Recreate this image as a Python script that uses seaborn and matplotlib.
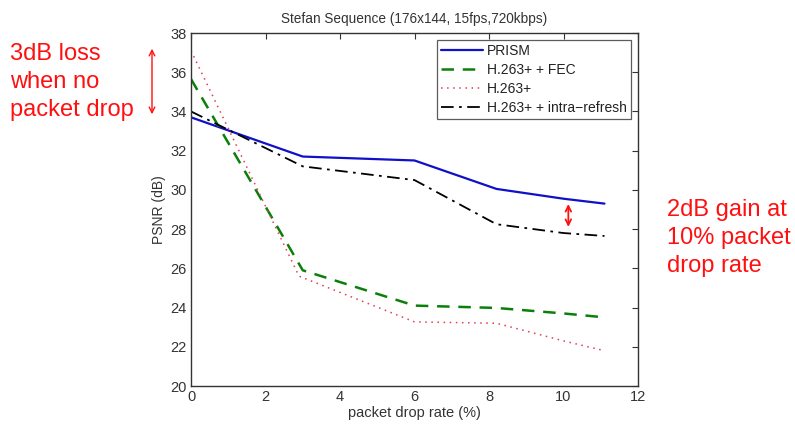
import matplotlib
matplotlib.use("Agg")
import matplotlib.pyplot as plt
import seaborn as sns
import numpy as np

# Data
drop_rate = [0, 3, 6, 8.2, 10, 11.1]
prism = [33.7, 31.7, 31.5, 30.05, 29.55, 29.3]
fec_x = [0, 3, 6, 8.2, 10, 11.1]
fec = [35.65, 25.9, 24.1, 23.98, 23.7, 23.5]
h263_x = [0, 2.9, 6, 8.2, 10, 11.1]
h263 = [37.1, 25.6, 23.27, 23.2, 22.3, 21.8]
intra = [34.0, 31.2, 30.5, 28.25, 27.8, 27.65]

series_names = ["PRISM", "H.263+ + FEC", "H.263+", "H.263+ + intra\u2212refresh"]
x_ticks = [0, 2, 4, 6, 8, 10, 12]
y_ticks = [20, 22, 24, 26, 28, 30, 32, 34, 36, 38]

sns.set_style("white")
plt.rcParams['font.family'] = ['Liberation Sans', 'DejaVu Sans']

fig = plt.figure(figsize=(7.95, 4.25), dpi=100)
ax = fig.add_axes([191/795, 1-386/425, (638-191)/795, (386-33)/425])

sns.lineplot(x=drop_rate, y=prism, ax=ax, color="#1010c8", lw=1.6, label=series_names[0])
sns.lineplot(x=fec_x, y=fec, ax=ax, color="#0a800a", lw=1.8, label=series_names[1])
sns.lineplot(x=h263_x, y=h263, ax=ax, color="#e23c58", lw=1.1, label=series_names[2])
sns.lineplot(x=drop_rate, y=intra, ax=ax, color="black", lw=1.3, label=series_names[3])
lines = ax.get_lines()
lines[1].set_dashes([5, 3.5])
lines[2].set_linestyle((0, (1, 3)))
lines[3].set_dashes([7, 3, 1.5, 3])

ax.set_xlim(0, 12)
ax.set_ylim(20, 38)
ax.set_xticks(x_ticks)
ax.set_yticks(y_ticks)
ax.tick_params(direction="in", top=True, right=True, labelsize=10.5, length=4, width=0.8,
               colors="#333333", pad=3)
for s in ax.spines.values():
    s.set_color("#333333")
    s.set_linewidth(1.0)
ax.set_xlabel("packet drop rate (%)", fontsize=10.5, color="#333333", labelpad=1)
ax.set_ylabel("PSNR (dB)", fontsize=10, color="#333333", labelpad=3)
ax.set_title("Stefan Sequence (176x144, 15fps,720kbps)", fontsize=9.8, color="#333333", pad=7)

leg = ax.legend(loc="upper right", fontsize=10, frameon=True, fancybox=False,
                edgecolor="#333333", handlelength=3.0, borderaxespad=0.5,
                labelspacing=0.36, handletextpad=0.3, borderpad=0.3)
leg.get_frame().set_linewidth(0.9)
for t in leg.get_texts():
    t.set_color("#222222")

# annotations
red = "#ff1010"
fig.text(10/795, 1-82/425, "3dB loss\nwhen no\npacket drop", color=red, fontsize=17,
         ha="left", va="center", linespacing=1.36)
ax.annotate("", xy=(152/795, 1-46/425), xytext=(152/795, 1-117/425),
            xycoords="figure fraction", textcoords="figure fraction",
            arrowprops=dict(arrowstyle="<->", color=red, lw=1.0, mutation_scale=10))
ax.annotate("", xy=(10.13, 29.42), xytext=(10.13, 27.97),
            arrowprops=dict(arrowstyle="<->", color=red, lw=1.3, mutation_scale=10))
fig.text(667/795, 1-238/425, "2dB gain at\n10% packet\ndrop rate", color=red, fontsize=17,
         ha="left", va="center", linespacing=1.36)

fig.savefig("out.png", dpi=100)
